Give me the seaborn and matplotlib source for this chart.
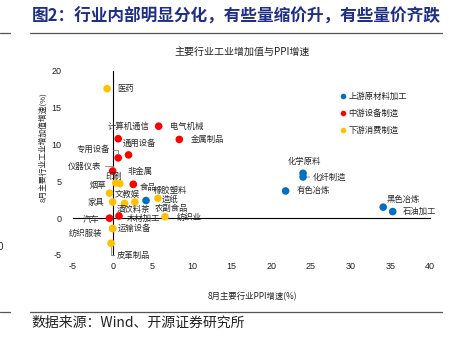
import matplotlib
matplotlib.use("Agg")
import matplotlib.pyplot as plt
from matplotlib.lines import Line2D
import seaborn as sns
import pandas as pd

# ---------------- data ----------------
names = ['电气机械', '金属制品', '计算机通信', '通用设备', '专用设备', '仪器仪表',
         '食品', '非金属', '汽车', '木材加工',
         '医药', '印刷', '文教娱', '烟草', '家具', '酒饮料茶', '农副食品', '造纸',
         '纺织业', '纺织服装', '运输设备', '皮革制品',
         '橡胶塑料', '化学原料', '化纤制造', '有色冶炼', '黑色冶炼', '石油加工']
ppi = [5.8, 8.4, 0.7, 2.0, 0.7, 0.0,
       2.6, 2.6, -0.4, 0.8,
       -0.7, 0.4, 0.9, -0.4, 0.0, 1.5, 2.8, 5.7,
       6.6, 0.0, 0.0, -0.2,
       4.2, 24.0, 24.0, 21.8, 34.1, 35.3]
iva = [12.5, 10.7, 10.8, 8.6, 8.2, 6.4,
       4.6, 4.6, 0.0, 0.3,
       17.6, 4.8, 4.7, 3.4, 2.2, 2.0, 2.2, 2.7,
       0.2, -1.4, -1.4, -3.4,
       2.4, 6.1, 5.6, 3.7, 1.5, 0.9]
groups = (['中游设备制造'] * 6 + ['下游消费制造', '中游设备制造', '中游设备制造', '中游设备制造']
          + ['下游消费制造'] * 12 + ['上游原材料加工'] * 6)
group_order = ['上游原材料加工', '中游设备制造', '下游消费制造']
x_ticks = [-5, 0, 5, 10, 15, 20, 25, 30, 35, 40]
y_ticks = [-5, 0, 5, 10, 15, 20]

title = '图2：行业内部明显分化，有些量缩价升，有些量价齐跌'
chart_title = '主要行业工业增加值与PPI增速'
x_label = '8月主要行业PPI增速(%)'
y_label = '8月主要行业工业增加值增速(%)'
source = '数据来源：Wind、开源证券研究所'

df = pd.DataFrame({'name': names, 'ppi': ppi, 'iva': iva, 'group': groups})

# label placement: (dx px, dy px, ha, leader)
label_pos = {
    '电气机械': (11, 0, 'left', None), '金属制品': (11, 0, 'left', None),
    '计算机通信': (10, 12, 'center', None), '通用设备': (11, 12, 'center', None),
    '专用设备': (-8, 8, 'right', 'elbow'), '仪器仪表': (-11, 5, 'right', 'elbow'),
    '食品': (6, -3, 'left', None), '非金属': (7, 13, 'center', None),
    '汽车': (-10, -1, 'right', None), '木材加工': (8, -2, 'left', None),
    '医药': (10, 0, 'left', None), '印刷': (-2, 6, 'center', None),
    '文教娱': (-5, -10.5, 'left', None), '烟草': (-3, 8, 'right', None),
    '家具': (-8, 0, 'right', None), '酒饮料茶': (-8, -6.5, 'left', None),
    '农副食品': (20, -6, 'left', None), '造纸': (4, -1, 'left', None),
    '纺织业': (12, -1, 'left', None), '纺织服装': (-10, -5, 'right', None),
    '运输设备': (5, 0, 'left', None), '皮革制品': (6, -12, 'left', 'elbow'),
    '橡胶塑料': (7.5, 10, 'left', None), '化学原料': (1, 12, 'center', None),
    '化纤制造': (10, 0, 'left', 'line'), '有色冶炼': (11, 0, 'left', None),
    '黑色冶炼': (3, 8, 'left', None), '石油加工': (10, 0, 'left', None),
}

palette = {'上游原材料加工': '#0070C0', '中游设备制造': '#FF0000', '下游消费制造': '#FFC000'}

# ---------------- style ----------------
sns.set_style('white')
plt.rcParams['font.family'] = ['Noto Sans CJK SC', 'DejaVu Sans']
CJK = ['Noto Sans CJK SC', 'DejaVu Sans']
NUM = ['Liberation Sans', 'DejaVu Sans']

W, H = 449, 341
fig = plt.figure(figsize=(W / 100, H / 100), dpi=100)
ax = fig.add_axes([73 / W, 1 - 255 / H, 357 / W, 184 / H])

sns.scatterplot(data=df, x='ppi', y='iva', hue='group', hue_order=group_order,
                palette=palette, s=30, linewidth=0, legend=False, ax=ax, zorder=3)

# spines first (set_position resets tick properties)
for s in ['top', 'right']:
    ax.spines[s].set_visible(False)
ax.spines['left'].set_position(('data', 0))
ax.spines['bottom'].set_position(('data', 0))
for s in ['left', 'bottom']:
    ax.spines[s].set_color('black')
    ax.spines[s].set_linewidth(0.8)
    ax.spines[s].set_zorder(1)

ax.set_xlim(-5, 40)
ax.set_ylim(-5, 20)
ax.set_xticks(x_ticks)
ax.set_yticks(y_ticks)
ax.set_xticklabels([str(v) for v in x_ticks], fontfamily=NUM, fontsize=6.5, color='#222222')
ax.set_yticklabels([str(v) for v in y_ticks], fontfamily=NUM, fontsize=6.5, color='#222222')
ax.set_xlabel('')
ax.set_ylabel('')
ax.tick_params(axis='x', direction='out', length=2.2, width=0.7, color='black', pad=29.5)
ax.tick_params(axis='y', direction='out', length=2.2, width=0.7, color='black', pad=34.5)
ax.set_facecolor('white')

# point labels
for n, xv, yv in zip(names, ppi, iva):
    dx, dy, ha, leader = label_pos[n]
    kw = {}
    if leader == 'elbow':
        kw['arrowprops'] = dict(arrowstyle='-', color='#808080', lw=0.6, shrinkA=0, shrinkB=3,
                                connectionstyle='angle,angleA=0,angleB=90,rad=0')
    elif leader == 'line':
        kw['arrowprops'] = dict(arrowstyle='-', color='#808080', lw=0.6, shrinkA=0, shrinkB=3)
    ax.annotate(n, (xv, yv), xytext=(dx, dy), textcoords='offset pixels',
                ha=ha, va='center', fontsize=6, color='#2a2a2a', fontfamily=CJK,
                zorder=4, **kw)

# legend
handles = [Line2D([0], [0], marker='o', linestyle='none', markersize=4,
                  markerfacecolor=palette[g], markeredgewidth=0) for g in group_order]
leg = fig.legend(handles, group_order, loc='upper left',
                 bbox_to_anchor=(339.5 / W, 1 - 92 / H), frameon=False,
                 prop={'family': CJK, 'size': 6}, handlelength=0.8, handletextpad=0.3,
                 labelspacing=0.95, borderpad=0, borderaxespad=0)
for t in leg.get_texts():
    t.set_color('#222222')

# texts
fig.text(32 / W, 1 - 17 / H, title, ha='left', va='center', fontsize=12,
         fontweight='bold', color='#1F2F85', fontfamily=CJK)
fig.text(242.5 / W, 1 - 52 / H, chart_title, ha='center', va='center', fontsize=7.2,
         color='#222222', fontfamily=CJK)
fig.text(252 / W, 1 - 297 / H, x_label, ha='center', va='center', fontsize=6,
         color='#222222', fontfamily=CJK)
fig.text(43 / W, 1 - 147 / H, y_label, ha='center', va='center', fontsize=5.6,
         rotation=90, color='#222222', fontfamily=CJK)
fig.text(31 / W, 1 - 323 / H, source, ha='left', va='center', fontsize=10,
         color='#222222', fontfamily=CJK)
fig.text(3 / W, 1 - 247 / H, '0', ha='right', va='center', fontsize=7,
         color='#222222', fontfamily=NUM)

# page rules
for yy in (33, 312):
    fig.add_artist(Line2D([30 / W, 442 / W], [1 - yy / H] * 2, color='#555555', lw=0.9))
    fig.add_artist(Line2D([0, 10 / W], [1 - yy / H] * 2, color='#555555', lw=0.9))

fig.savefig('out.png', dpi=100, facecolor='white')
